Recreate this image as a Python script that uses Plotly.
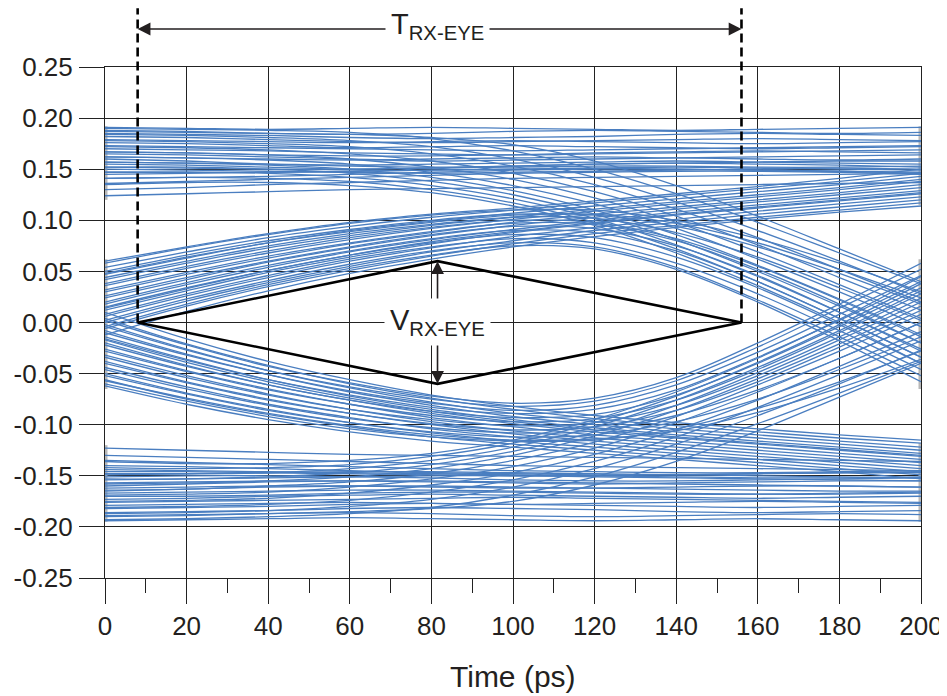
import plotly.graph_objects as go

# ---------------- data ----------------
time_ps = [0, 20, 40, 60, 80, 100, 120, 140, 160, 180, 200]

# steady high level
steady_high = [
    [0.191, 0.190, 0.189, 0.190, 0.191, 0.190, 0.189, 0.188, 0.189, 0.190, 0.191],
    [0.188, 0.187, 0.185, 0.184, 0.185, 0.187, 0.188, 0.187, 0.186, 0.185, 0.186],
    [0.185, 0.184, 0.183, 0.181, 0.180, 0.181, 0.182, 0.184, 0.185, 0.184, 0.183],
    [0.182, 0.181, 0.179, 0.177, 0.176, 0.177, 0.178, 0.179, 0.180, 0.179, 0.178],
    [0.179, 0.178, 0.177, 0.176, 0.177, 0.178, 0.177, 0.176, 0.175, 0.176, 0.177],
    [0.176, 0.175, 0.173, 0.171, 0.172, 0.173, 0.172, 0.171, 0.170, 0.171, 0.172],
    [0.173, 0.172, 0.171, 0.170, 0.169, 0.168, 0.169, 0.170, 0.171, 0.172, 0.173],
    [0.170, 0.169, 0.168, 0.166, 0.165, 0.164, 0.165, 0.166, 0.167, 0.168, 0.169],
    [0.167, 0.166, 0.164, 0.163, 0.163, 0.164, 0.166, 0.167, 0.168, 0.167, 0.166],
    [0.165, 0.164, 0.162, 0.160, 0.158, 0.159, 0.160, 0.161, 0.162, 0.163, 0.164],
    [0.162, 0.161, 0.160, 0.159, 0.160, 0.161, 0.162, 0.161, 0.160, 0.159, 0.160],
    [0.160, 0.158, 0.155, 0.153, 0.152, 0.153, 0.155, 0.156, 0.157, 0.158, 0.158],
    [0.157, 0.156, 0.155, 0.154, 0.155, 0.156, 0.157, 0.158, 0.157, 0.156, 0.155],
    [0.155, 0.154, 0.152, 0.150, 0.151, 0.152, 0.153, 0.153, 0.152, 0.152, 0.153],
    [0.152, 0.151, 0.150, 0.150, 0.151, 0.153, 0.155, 0.156, 0.155, 0.154, 0.152],
    [0.150, 0.149, 0.148, 0.147, 0.146, 0.147, 0.148, 0.149, 0.150, 0.151, 0.150],
    [0.147, 0.147, 0.147, 0.148, 0.149, 0.150, 0.151, 0.150, 0.149, 0.148, 0.147],
    [0.145, 0.146, 0.147, 0.148, 0.149, 0.150, 0.151, 0.152, 0.151, 0.150, 0.149],
    [0.141, 0.142, 0.143, 0.145, 0.147, 0.149, 0.150, 0.150, 0.149, 0.148, 0.146],
    [0.136, 0.138, 0.140, 0.142, 0.144, 0.146, 0.147, 0.148, 0.148, 0.147, 0.145],
    [0.130, 0.132, 0.135, 0.137, 0.139, 0.141, 0.142, 0.143, 0.144, 0.145, 0.146],
    [0.124, 0.126, 0.128, 0.130, 0.131, 0.132, 0.133, 0.134, 0.135, 0.136, 0.137],
]

# crossing at 0 ps, rising to the high level
rise_to_high = [
    [0.060, 0.074, 0.087, 0.098, 0.106, 0.112, 0.119, 0.126, 0.133, 0.141, 0.150],
    [0.054, 0.069, 0.083, 0.094, 0.103, 0.110, 0.117, 0.124, 0.131, 0.138, 0.146],
    [0.048, 0.064, 0.078, 0.090, 0.099, 0.107, 0.114, 0.121, 0.128, 0.135, 0.143],
    [0.042, 0.058, 0.073, 0.085, 0.095, 0.103, 0.111, 0.118, 0.125, 0.132, 0.140],
    [0.036, 0.053, 0.068, 0.081, 0.092, 0.101, 0.109, 0.116, 0.123, 0.130, 0.138],
    [0.030, 0.047, 0.063, 0.077, 0.088, 0.098, 0.106, 0.113, 0.120, 0.127, 0.135],
    [0.024, 0.042, 0.059, 0.073, 0.085, 0.095, 0.103, 0.111, 0.118, 0.125, 0.132],
    [0.018, 0.037, 0.054, 0.069, 0.081, 0.091, 0.100, 0.108, 0.115, 0.122, 0.129],
    [0.012, 0.031, 0.049, 0.064, 0.077, 0.088, 0.097, 0.105, 0.112, 0.119, 0.126],
    [0.006, 0.026, 0.044, 0.060, 0.073, 0.084, 0.093, 0.101, 0.109, 0.116, 0.123],
    [0.000, 0.021, 0.039, 0.055, 0.069, 0.080, 0.090, 0.098, 0.106, 0.113, 0.120],
    [-0.006, 0.016, 0.035, 0.051, 0.065, 0.077, 0.087, 0.095, 0.103, 0.110, 0.117],
    [-0.012, 0.011, 0.031, 0.048, 0.062, 0.074, 0.084, 0.093, 0.101, 0.108, 0.114],
    [0.015, 0.034, 0.051, 0.066, 0.079, 0.089, 0.098, 0.106, 0.113, 0.120, 0.127],
]

# crossing at 0 ps, rising, then falling back to the crossing at 200 ps
rise_then_fall = [
    [0.058, 0.073, 0.086, 0.097, 0.105, 0.110, 0.110, 0.100, 0.082, 0.058, 0.030],
    [0.050, 0.066, 0.080, 0.091, 0.100, 0.106, 0.105, 0.094, 0.074, 0.048, 0.018],
    [0.044, 0.060, 0.075, 0.087, 0.096, 0.103, 0.102, 0.088, 0.064, 0.034, 0.002],
    [0.038, 0.055, 0.070, 0.083, 0.093, 0.100, 0.098, 0.082, 0.055, 0.022, -0.014],
    [0.032, 0.049, 0.065, 0.078, 0.089, 0.097, 0.096, 0.080, 0.052, 0.018, -0.020],
    [0.026, 0.044, 0.060, 0.074, 0.086, 0.094, 0.092, 0.075, 0.046, 0.010, -0.028],
    [0.020, 0.039, 0.056, 0.070, 0.082, 0.090, 0.088, 0.070, 0.040, 0.004, -0.034],
    [0.014, 0.033, 0.051, 0.066, 0.078, 0.086, 0.083, 0.064, 0.034, -0.002, -0.040],
    [0.008, 0.028, 0.046, 0.062, 0.074, 0.082, 0.078, 0.058, 0.028, -0.008, -0.046],
    [0.002, 0.023, 0.041, 0.057, 0.070, 0.078, 0.074, 0.054, 0.022, -0.014, -0.052],
    [-0.004, 0.018, 0.037, 0.053, 0.066, 0.075, 0.072, 0.052, 0.020, -0.018, -0.058],
    [0.047, 0.063, 0.078, 0.089, 0.098, 0.105, 0.106, 0.097, 0.078, 0.052, 0.024],
]

# high level, then falling to the crossing at 200 ps
high_then_fall = [
    [0.190, 0.189, 0.188, 0.186, 0.180, 0.168, 0.150, 0.126, 0.098, 0.068, 0.038],
    [0.184, 0.183, 0.181, 0.178, 0.172, 0.160, 0.142, 0.118, 0.090, 0.060, 0.028],
    [0.178, 0.177, 0.175, 0.172, 0.165, 0.153, 0.135, 0.111, 0.083, 0.052, 0.020],
    [0.172, 0.171, 0.169, 0.165, 0.158, 0.146, 0.128, 0.104, 0.076, 0.044, 0.012],
    [0.167, 0.166, 0.164, 0.160, 0.152, 0.140, 0.122, 0.098, 0.069, 0.037, 0.004],
    [0.162, 0.161, 0.159, 0.155, 0.147, 0.134, 0.116, 0.092, 0.062, 0.030, -0.004],
    [0.157, 0.156, 0.154, 0.150, 0.142, 0.129, 0.110, 0.086, 0.056, 0.023, -0.012],
    [0.152, 0.152, 0.150, 0.146, 0.138, 0.125, 0.106, 0.081, 0.050, 0.016, -0.020],
    [0.147, 0.147, 0.146, 0.142, 0.134, 0.121, 0.102, 0.076, 0.045, 0.010, -0.026],
    [0.141, 0.142, 0.141, 0.138, 0.130, 0.117, 0.098, 0.072, 0.040, 0.004, -0.034],
    [0.135, 0.137, 0.137, 0.134, 0.127, 0.114, 0.095, 0.068, 0.036, 0.000, -0.040],
    [0.187, 0.186, 0.185, 0.184, 0.181, 0.174, 0.158, 0.134, 0.104, 0.072, 0.040],
]

# steady low level
steady_low = [
    [-0.194, -0.193, -0.192, -0.191, -0.192, -0.193, -0.194, -0.193, -0.192, -0.193, -0.194],
    [-0.190, -0.189, -0.187, -0.186, -0.187, -0.189, -0.190, -0.189, -0.188, -0.187, -0.188],
    [-0.186, -0.185, -0.184, -0.182, -0.181, -0.182, -0.183, -0.185, -0.186, -0.185, -0.184],
    [-0.182, -0.181, -0.180, -0.178, -0.177, -0.178, -0.179, -0.180, -0.181, -0.180, -0.179],
    [-0.179, -0.178, -0.177, -0.176, -0.177, -0.178, -0.177, -0.176, -0.175, -0.176, -0.177],
    [-0.176, -0.175, -0.174, -0.173, -0.172, -0.171, -0.172, -0.173, -0.174, -0.175, -0.176],
    [-0.173, -0.172, -0.170, -0.169, -0.168, -0.169, -0.170, -0.171, -0.172, -0.171, -0.170],
    [-0.170, -0.170, -0.169, -0.167, -0.166, -0.166, -0.167, -0.168, -0.168, -0.167, -0.166],
    [-0.167, -0.166, -0.165, -0.164, -0.164, -0.165, -0.166, -0.167, -0.168, -0.168, -0.167],
    [-0.165, -0.163, -0.161, -0.160, -0.160, -0.161, -0.162, -0.163, -0.164, -0.165, -0.165],
    [-0.162, -0.161, -0.160, -0.160, -0.161, -0.162, -0.162, -0.161, -0.160, -0.160, -0.161],
    [-0.160, -0.158, -0.156, -0.155, -0.155, -0.156, -0.157, -0.158, -0.159, -0.160, -0.161],
    [-0.157, -0.156, -0.155, -0.155, -0.156, -0.157, -0.158, -0.157, -0.156, -0.155, -0.155],
    [-0.154, -0.153, -0.152, -0.151, -0.150, -0.150, -0.151, -0.152, -0.153, -0.154, -0.155],
    [-0.151, -0.150, -0.150, -0.151, -0.152, -0.154, -0.155, -0.155, -0.154, -0.153, -0.152],
    [-0.149, -0.148, -0.147, -0.146, -0.146, -0.147, -0.148, -0.149, -0.150, -0.151, -0.152],
    [-0.146, -0.146, -0.147, -0.148, -0.149, -0.150, -0.150, -0.149, -0.148, -0.147, -0.147],
    [-0.144, -0.145, -0.146, -0.147, -0.148, -0.149, -0.150, -0.151, -0.152, -0.152, -0.151],
    [-0.140, -0.141, -0.143, -0.145, -0.147, -0.148, -0.149, -0.149, -0.148, -0.147, -0.146],
    [-0.135, -0.137, -0.139, -0.141, -0.143, -0.145, -0.146, -0.147, -0.147, -0.146, -0.145],
    [-0.130, -0.132, -0.134, -0.136, -0.138, -0.140, -0.141, -0.142, -0.143, -0.144, -0.145],
    [-0.123, -0.125, -0.127, -0.129, -0.130, -0.131, -0.132, -0.133, -0.134, -0.135, -0.136],
]

# crossing at 0 ps, falling to the low level
fall_to_low = [
    [-0.062, -0.080, -0.095, -0.107, -0.116, -0.122, -0.128, -0.134, -0.140, -0.146, -0.153],
    [-0.056, -0.075, -0.090, -0.102, -0.112, -0.119, -0.125, -0.131, -0.137, -0.143, -0.149],
    [-0.050, -0.069, -0.085, -0.098, -0.108, -0.116, -0.122, -0.128, -0.134, -0.140, -0.146],
    [-0.044, -0.063, -0.080, -0.093, -0.104, -0.112, -0.119, -0.125, -0.131, -0.137, -0.143],
    [-0.038, -0.058, -0.075, -0.089, -0.100, -0.109, -0.116, -0.122, -0.128, -0.134, -0.140],
    [-0.032, -0.052, -0.070, -0.085, -0.097, -0.106, -0.113, -0.119, -0.125, -0.131, -0.137],
    [-0.026, -0.047, -0.065, -0.080, -0.093, -0.102, -0.110, -0.116, -0.122, -0.128, -0.134],
    [-0.020, -0.042, -0.061, -0.076, -0.089, -0.099, -0.107, -0.113, -0.119, -0.125, -0.131],
    [-0.014, -0.036, -0.056, -0.072, -0.085, -0.095, -0.103, -0.110, -0.116, -0.122, -0.128],
    [-0.008, -0.031, -0.051, -0.068, -0.081, -0.092, -0.100, -0.107, -0.113, -0.119, -0.125],
    [-0.002, -0.026, -0.047, -0.064, -0.078, -0.089, -0.097, -0.104, -0.110, -0.116, -0.122],
    [0.004, -0.021, -0.042, -0.060, -0.074, -0.085, -0.094, -0.101, -0.107, -0.113, -0.118],
    [0.010, -0.016, -0.038, -0.056, -0.071, -0.082, -0.091, -0.098, -0.104, -0.110, -0.115],
    [-0.017, -0.039, -0.058, -0.074, -0.087, -0.097, -0.105, -0.112, -0.118, -0.124, -0.130],
]

# crossing at 0 ps, falling, then rising back to the crossing at 200 ps
fall_then_rise = [
    [-0.060, -0.077, -0.092, -0.104, -0.112, -0.116, -0.115, -0.104, -0.084, -0.058, -0.028],
    [-0.052, -0.070, -0.086, -0.098, -0.107, -0.112, -0.110, -0.097, -0.075, -0.046, -0.014],
    [-0.046, -0.065, -0.081, -0.094, -0.103, -0.108, -0.106, -0.091, -0.066, -0.035, 0.000],
    [-0.040, -0.059, -0.076, -0.089, -0.099, -0.105, -0.102, -0.086, -0.058, -0.024, 0.012],
    [-0.034, -0.054, -0.071, -0.085, -0.095, -0.101, -0.098, -0.081, -0.052, -0.017, 0.020],
    [-0.028, -0.048, -0.066, -0.080, -0.091, -0.097, -0.094, -0.076, -0.046, -0.010, 0.028],
    [-0.022, -0.043, -0.061, -0.076, -0.087, -0.093, -0.090, -0.071, -0.040, -0.004, 0.034],
    [-0.016, -0.037, -0.056, -0.071, -0.083, -0.089, -0.085, -0.066, -0.034, 0.002, 0.040],
    [-0.010, -0.032, -0.051, -0.067, -0.079, -0.086, -0.081, -0.061, -0.029, 0.008, 0.046],
    [-0.004, -0.027, -0.047, -0.063, -0.075, -0.082, -0.077, -0.057, -0.024, 0.014, 0.052],
    [0.002, -0.022, -0.043, -0.059, -0.072, -0.079, -0.074, -0.054, -0.020, 0.018, 0.058],
    [-0.057, -0.074, -0.089, -0.101, -0.110, -0.115, -0.114, -0.106, -0.088, -0.064, -0.036],
]

# low level, then rising to the crossing at 200 ps
low_then_rise = [
    [-0.193, -0.192, -0.190, -0.187, -0.181, -0.169, -0.151, -0.127, -0.099, -0.069, -0.038],
    [-0.187, -0.186, -0.184, -0.180, -0.173, -0.161, -0.143, -0.119, -0.091, -0.060, -0.027],
    [-0.181, -0.180, -0.178, -0.174, -0.166, -0.154, -0.136, -0.112, -0.083, -0.051, -0.018],
    [-0.175, -0.174, -0.172, -0.167, -0.159, -0.147, -0.129, -0.105, -0.076, -0.043, -0.009],
    [-0.169, -0.168, -0.166, -0.161, -0.153, -0.141, -0.123, -0.098, -0.068, -0.035, 0.000],
    [-0.164, -0.163, -0.160, -0.156, -0.148, -0.135, -0.117, -0.092, -0.061, -0.028, 0.008],
    [-0.158, -0.157, -0.155, -0.151, -0.143, -0.130, -0.111, -0.086, -0.055, -0.021, 0.016],
    [-0.153, -0.153, -0.151, -0.147, -0.139, -0.126, -0.107, -0.081, -0.049, -0.014, 0.024],
    [-0.148, -0.148, -0.147, -0.143, -0.135, -0.122, -0.102, -0.076, -0.044, -0.008, 0.031],
    [-0.142, -0.143, -0.142, -0.139, -0.131, -0.118, -0.098, -0.072, -0.039, -0.002, 0.038],
    [-0.136, -0.138, -0.138, -0.135, -0.128, -0.115, -0.095, -0.068, -0.035, 0.003, 0.045],
    [-0.189, -0.188, -0.187, -0.185, -0.182, -0.175, -0.159, -0.136, -0.106, -0.073, -0.040],
]

# light-grey persistence bars at the left and right edges
edge_t = [0, 0, 0, 200, 200, 200]
edge_lo = [0.120, -0.065, -0.195, 0.115, -0.065, -0.195]
edge_hi = [0.192, 0.062, -0.120, 0.192, 0.062, -0.118]

# eye mask (diamond) and eye-width markers
eye_mask_t = [8, 81.5, 156, 81.5, 8]
eye_mask_v = [0.0, 0.06, 0.0, -0.06, 0.0]
eye_width_t = [8, 156]
eye_center_t = 81.5
eye_height_v = [0.06, -0.06]

x_tick_vals = [0, 20, 40, 60, 80, 100, 120, 140, 160, 180, 200]
y_tick_vals = [-0.25, -0.20, -0.15, -0.10, -0.05, 0.00, 0.05, 0.10, 0.15, 0.20, 0.25]
y_tick_text = ["-0.25", "-0.20", "-0.15", "-0.10", "-0.05", "0.00", "0.05", "0.10", "0.15", "0.20", "0.25"]
x_title = "Time (ps)"

# ---------------- figure ----------------
FONT = "Liberation Sans, Arial, Helvetica, sans-serif"
TEXT = "#231f20"
BLUE = "rgb(74,126,192)"

fig = go.Figure()

for t, lo, hi in zip(edge_t, edge_lo, edge_hi):
    fig.add_trace(go.Scatter(
        x=[t, t], y=[lo, hi], mode="lines",
        line=dict(color="#b8b8b8", width=5),
        hoverinfo="skip", showlegend=False,
    ))

groups = [steady_high, rise_to_high, rise_then_fall, high_then_fall,
          steady_low, fall_to_low, fall_then_rise, low_then_rise]
for grp in groups:
    for wave in grp:
        fig.add_trace(go.Scatter(
            x=time_ps, y=wave, mode="lines",
            line=dict(color=BLUE, width=1.3, shape="spline", smoothing=1.0),
            hoverinfo="skip", showlegend=False,
        ))

# eye mask diamond
fig.add_trace(go.Scatter(
    x=eye_mask_t, y=eye_mask_v, mode="lines",
    line=dict(color="black", width=2.6),
    hoverinfo="skip", showlegend=False,
))

shapes = []
for t in eye_width_t:
    shapes.append(dict(type="line", xref="x", yref="paper",
                       x0=t, x1=t, y0=0.5, y1=1.115,
                       line=dict(color="black", width=2.6, dash="9px,5px"),
                       layer="above"))

arrow_y = 1.0744
annotations = []
# horizontal T arrows
for t in eye_width_t:
    annotations.append(dict(
        x=t, y=arrow_y, xref="x", yref="paper",
        ax=eye_center_t, ay=0, axref="x", ayref="pixel",
        text="", showarrow=True, arrowhead=2, arrowsize=1.6,
        arrowwidth=1.6, arrowcolor="#231f20", standoff=0,
    ))
# vertical V arrows
for v in eye_height_v:
    annotations.append(dict(
        x=eye_center_t, y=v, xref="x", yref="y",
        ax=eye_center_t, ay=0.0, axref="x", ayref="y",
        text="", showarrow=True, arrowhead=2, arrowsize=1.6,
        arrowwidth=1.6, arrowcolor="#231f20", standoff=0,
    ))
annotations.append(dict(
    x=eye_center_t, y=arrow_y, xref="x", yref="paper",
    xanchor="center", yanchor="middle", yshift=3,
    text="T<sub>RX-EYE</sub>", showarrow=False,
    font=dict(family=FONT, size=29, color=TEXT),
    bgcolor="white", borderpad=5,
))
annotations.append(dict(
    x=eye_center_t, y=0, xref="x", yref="y",
    xanchor="center", yanchor="middle", yshift=1,
    text="V<sub>RX-EYE</sub>", showarrow=False,
    font=dict(family=FONT, size=29, color=TEXT),
    bgcolor="white", borderpad=5,
))
# x-axis title
annotations.append(dict(
    x=0.5, y=-0.1918, xref="paper", yref="paper",
    xanchor="center", yanchor="middle",
    text=x_title, showarrow=False,
    font=dict(family=FONT, size=30, color=TEXT),
))

# the page body adds an 8 px margin, so the figure is 8 px smaller and its
# margins are 8 px tighter on the left / top
fig.update_layout(
    width=939, height=688,
    margin=dict(l=97, r=26, t=59, b=118, autoexpand=False),
    paper_bgcolor="white", plot_bgcolor="white",
    font=dict(family=FONT, color=TEXT),
    shapes=shapes, annotations=annotations,
    showlegend=False,
)

fig.update_xaxes(
    range=[0, 200], tickvals=x_tick_vals, automargin=False,
    showgrid=True, gridcolor="#222", gridwidth=1,
    zeroline=False,
    showline=True, linecolor="#222", linewidth=1, mirror=True,
    ticks="outside", ticklen=25, tickcolor="#222", tickwidth=1.2,
    minor=dict(dtick=10, tick0=0, ticks="outside", ticklen=14,
               tickcolor="#222", tickwidth=1.2, showgrid=False),
    tickfont=dict(family=FONT, size=26, color=TEXT),
    ticklabelstandoff=0,
)
fig.update_yaxes(
    range=[-0.25, 0.25], tickvals=y_tick_vals, ticktext=y_tick_text,
    automargin=False,
    showgrid=True, gridcolor="#222", gridwidth=1,
    zeroline=False,
    showline=True, linecolor="#222", linewidth=1, mirror=True,
    ticks="outside", ticklen=25, tickcolor="#222", tickwidth=1.2,
    tickfont=dict(family=FONT, size=26, color=TEXT),
    ticklabelstandoff=1,
)

fig.write_html("out.html")
